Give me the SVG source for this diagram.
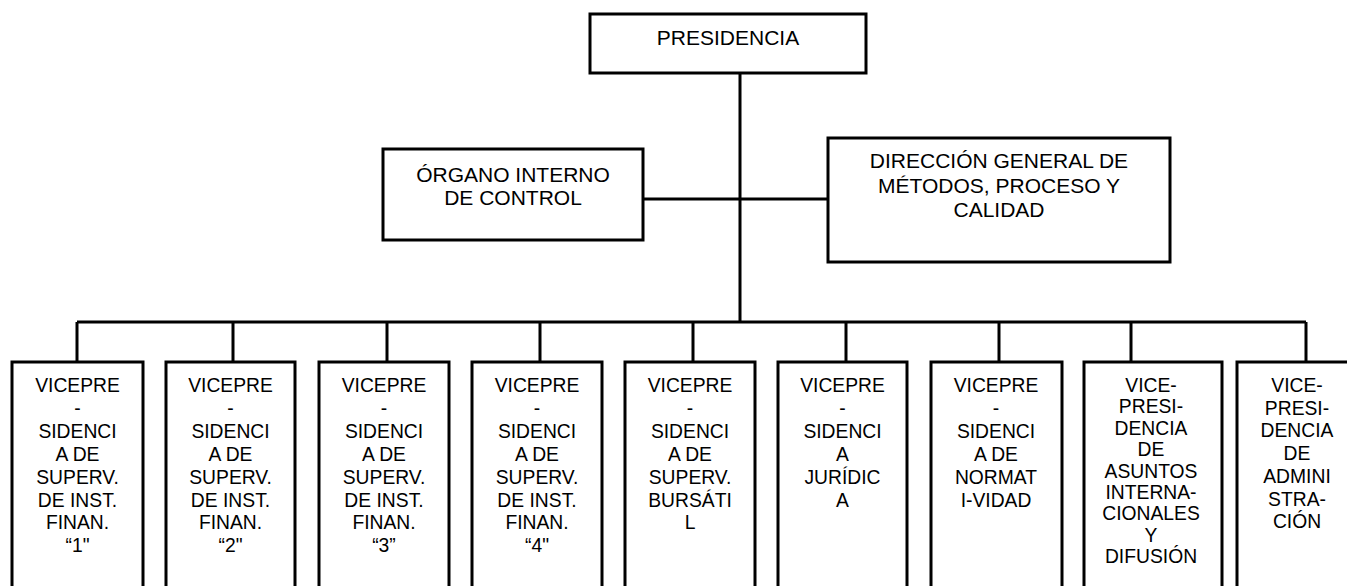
<svg xmlns="http://www.w3.org/2000/svg" width="1347" height="586" viewBox="0 0 1347 586">
<style>
.box{fill:#fff;stroke:#000;stroke-width:3}
.t{font-family:"Liberation Sans",Arial,sans-serif;font-size:21px;fill:#000;text-anchor:middle}
.s{font-family:"Liberation Sans",Arial,sans-serif;font-size:19.3px;fill:#000;text-anchor:middle}
.c{fill:none;stroke:#000;stroke-width:3}
</style>
<rect width="1347" height="586" fill="#fff"/>
<g id="connectors">
<path class="c" d="M740 73V322M643 199H828M77 322H1306M77 322V362M233 322V362M387 322V362M540 322V362M693 322V362M846 322V362M999 322V362M1131 322V362M1306 322V362"/>
</g>
<g id="presidencia">
<rect class="box" x="590" y="14" width="276" height="59"/>
<text class="t" x="728" y="45">PRESIDENCIA</text>
</g>
<g id="organo">
<rect class="box" x="383" y="149" width="260" height="91"/>
<text class="t" x="513" y="182">ÓRGANO INTERNO</text>
<text class="t" x="513" y="205">DE CONTROL</text>
</g>
<g id="direccion">
<rect class="box" x="828" y="138" width="342" height="124"/>
<text class="t" x="999" y="168">DIRECCIÓN GENERAL DE</text>
<text class="t" x="999" y="193">MÉTODOS, PROCESO Y</text>
<text class="t" x="999" y="217">CALIDAD</text>
</g>
<g id="vp1">
<rect class="box" x="12" y="362" width="131" height="240"/>
<text class="s" x="77.5" y="392"><tspan x="77.5">VICEPRE</tspan><tspan x="77.5" dy="22.9">-</tspan><tspan x="77.5" dy="22.9">SIDENCI</tspan><tspan x="77.5" dy="22.9">A DE</tspan><tspan x="77.5" dy="22.9">SUPERV.</tspan><tspan x="77.5" dy="22.9">DE INST.</tspan><tspan x="77.5" dy="22.9">FINAN.</tspan><tspan x="77.5" dy="22.9">“1"</tspan></text>
</g>
<g id="vp2">
<rect class="box" x="166" y="362" width="129" height="240"/>
<text class="s" x="230.5" y="392"><tspan x="230.5">VICEPRE</tspan><tspan x="230.5" dy="22.9">-</tspan><tspan x="230.5" dy="22.9">SIDENCI</tspan><tspan x="230.5" dy="22.9">A DE</tspan><tspan x="230.5" dy="22.9">SUPERV.</tspan><tspan x="230.5" dy="22.9">DE INST.</tspan><tspan x="230.5" dy="22.9">FINAN.</tspan><tspan x="230.5" dy="22.9">“2"</tspan></text>
</g>
<g id="vp3">
<rect class="box" x="319" y="362" width="130" height="240"/>
<text class="s" x="384" y="392"><tspan x="384">VICEPRE</tspan><tspan x="384" dy="22.9">-</tspan><tspan x="384" dy="22.9">SIDENCI</tspan><tspan x="384" dy="22.9">A DE</tspan><tspan x="384" dy="22.9">SUPERV.</tspan><tspan x="384" dy="22.9">DE INST.</tspan><tspan x="384" dy="22.9">FINAN.</tspan><tspan x="384" dy="22.9">“3”</tspan></text>
</g>
<g id="vp4">
<rect class="box" x="472" y="362" width="130" height="240"/>
<text class="s" x="537" y="392"><tspan x="537">VICEPRE</tspan><tspan x="537" dy="22.9">-</tspan><tspan x="537" dy="22.9">SIDENCI</tspan><tspan x="537" dy="22.9">A DE</tspan><tspan x="537" dy="22.9">SUPERV.</tspan><tspan x="537" dy="22.9">DE INST.</tspan><tspan x="537" dy="22.9">FINAN.</tspan><tspan x="537" dy="22.9">“4"</tspan></text>
</g>
<g id="vp5">
<rect class="box" x="625" y="362" width="130" height="240"/>
<text class="s" x="690" y="392"><tspan x="690">VICEPRE</tspan><tspan x="690" dy="22.9">-</tspan><tspan x="690" dy="22.9">SIDENCI</tspan><tspan x="690" dy="22.9">A DE</tspan><tspan x="690" dy="22.9">SUPERV.</tspan><tspan x="690" dy="22.9">BURSÁTI</tspan><tspan x="690" dy="22.9">L</tspan></text>
</g>
<g id="vp6">
<rect class="box" x="778" y="362" width="129" height="240"/>
<text class="s" x="842.5" y="392"><tspan x="842.5">VICEPRE</tspan><tspan x="842.5" dy="22.9">-</tspan><tspan x="842.5" dy="22.9">SIDENCI</tspan><tspan x="842.5" dy="22.9">A</tspan><tspan x="842.5" dy="22.9">JURÍDIC</tspan><tspan x="842.5" dy="22.9">A</tspan></text>
</g>
<g id="vp7">
<rect class="box" x="931" y="362" width="131" height="240"/>
<text class="s" x="996" y="392"><tspan x="996">VICEPRE</tspan><tspan x="996" dy="22.9">-</tspan><tspan x="996" dy="22.9">SIDENCI</tspan><tspan x="996" dy="22.9">A DE</tspan><tspan x="996" dy="22.9">NORMAT</tspan><tspan x="996" dy="22.9">I-VIDAD</tspan></text>
</g>
<g id="vp8">
<rect class="box" x="1084" y="362" width="138" height="240"/>
<text class="s" x="1151" y="392"><tspan x="1151">VICE-</tspan><tspan x="1151" dy="21.4">PRESI-</tspan><tspan x="1151" dy="21.4">DENCIA</tspan><tspan x="1151" dy="21.4">DE</tspan><tspan x="1151" dy="21.4">ASUNTOS</tspan><tspan x="1151" dy="21.4">INTERNA-</tspan><tspan x="1151" dy="21.4">CIONALES</tspan><tspan x="1151" dy="21.4">Y</tspan><tspan x="1151" dy="21.4">DIFUSIÓN</tspan></text>
</g>
<g id="vp9">
<rect class="box" x="1237" y="362" width="120" height="240"/>
<text class="s" x="1297" y="392"><tspan x="1297">VICE-</tspan><tspan x="1297" dy="22.7">PRESI-</tspan><tspan x="1297" dy="22.7">DENCIA</tspan><tspan x="1297" dy="22.7">DE</tspan><tspan x="1297" dy="22.7">ADMINI</tspan><tspan x="1297" dy="22.7">STRA-</tspan><tspan x="1297" dy="22.7">CIÓN</tspan></text>
</g>
</svg>
